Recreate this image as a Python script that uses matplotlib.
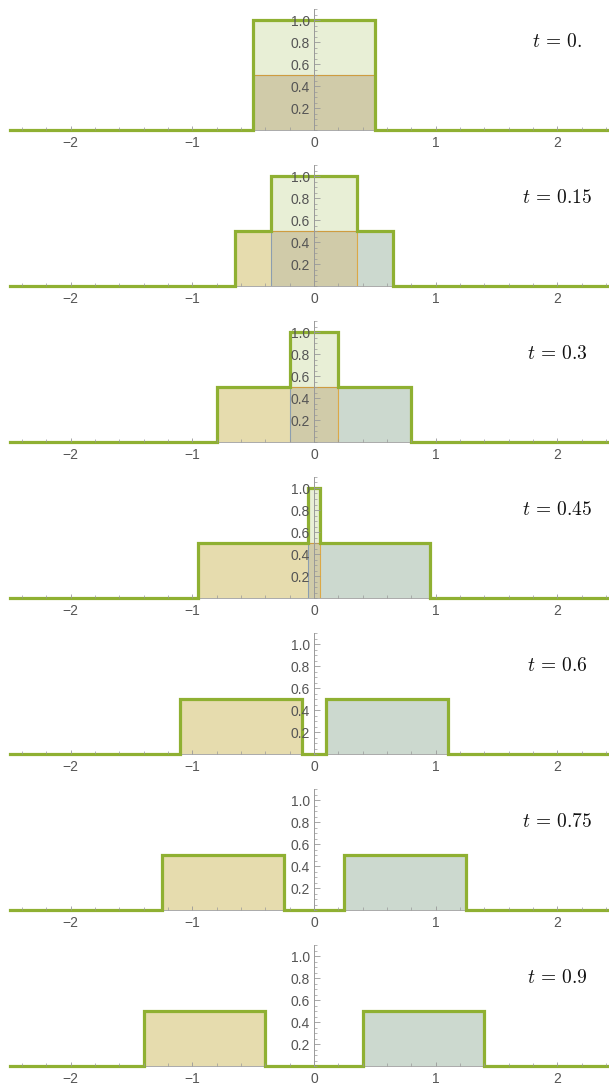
import numpy as np
import matplotlib.pyplot as plt
from matplotlib.ticker import MultipleLocator

plt.rcParams['mathtext.fontset'] = 'cm'
plt.rcParams['font.family'] = ['Liberation Sans', 'DejaVu Sans']

# time of each snapshot and its label
times = [0.0, 0.15, 0.3, 0.45, 0.6, 0.75, 0.9]
time_labels = ['0.', '0.15', '0.3', '0.45', '0.6', '0.75', '0.9']

# left-moving half of the pulse: [start, end] at each time
left_lo = [-0.5, -0.65, -0.8, -0.95, -1.1, -1.25, -1.4]
left_hi = [0.5, 0.35, 0.2, 0.05, -0.1, -0.25, -0.4]
# right-moving half of the pulse
right_lo = [-0.5, -0.35, -0.2, -0.05, 0.1, 0.25, 0.4]
right_hi = [0.5, 0.65, 0.8, 0.95, 1.1, 1.25, 1.4]
half_height = 0.5

x_range = (-2.5, 2.5)

GREEN = '#8FB032'
ORANGE = '#E19C24'
BLUE = '#5E81B5'


def box_path(lo, hi, height):
    """
    Outline of a single rectangle pulse (sides and top only).
    """
    return np.array([lo, lo, hi, hi]), np.array([0, height, height, 0])


def total_path(boxes):
    """
    Outline of the sum of several rectangle pulses (step function).

    :param boxes: list of (lo, hi, height)
    """
    edges = sorted(set([x_range[0], x_range[1]] + [b[0] for b in boxes] + [b[1] for b in boxes]))
    xs, ys = [], []
    for a, b in zip(edges[:-1], edges[1:]):
        mid = 0.5 * (a + b)
        val = sum(h for lo, hi, h in boxes if lo < mid < hi)
        xs += [a, b]
        ys += [val, val]
    return np.array(xs), np.array(ys)


def style_axes(ax):
    ax.set_xlim(*x_range)
    ax.set_ylim(0, 1.1)
    ax.set_facecolor('none')
    for side in ['top', 'right']:
        ax.spines[side].set_visible(False)
    ax.spines['left'].set_position(('data', 0))
    ax.spines['left'].set_color('#999999')
    ax.spines['left'].set_linewidth(0.7)
    ax.spines['left'].set_zorder(3)
    ax.spines['bottom'].set_color('#aaaaaa')
    ax.spines['bottom'].set_linewidth(0.7)
    ax.spines['bottom'].set_zorder(1)

    ax.set_xticks([-2, -1, 0, 1, 2])
    ax.xaxis.set_minor_locator(MultipleLocator(0.2))
    ax.set_yticks([0.2, 0.4, 0.6, 0.8, 1.0])
    ax.set_yticklabels(['0.2', '0.4', '0.6', '0.8', '1.0'])
    ax.yaxis.set_minor_locator(MultipleLocator(0.05))

    ax.tick_params(axis='x', which='major', direction='in', length=3, width=0.6,
                   color='#999999', labelsize=10, labelcolor='#555555', pad=4.5)
    ax.tick_params(axis='x', which='minor', direction='in', length=2, width=0.5, color='#999999')
    ax.tick_params(axis='y', which='major', direction='in', length=4, width=0.6,
                   color='#999999', labelsize=10, labelcolor='#555555', pad=3)
    ax.tick_params(axis='y', which='minor', direction='in', length=2, width=0.5, color='#999999')
    ax.set_axisbelow(False)


def plot_snapshot(ax, i):
    left = (left_lo[i], left_hi[i], half_height)
    right = (right_lo[i], right_hi[i], half_height)

    tx, ty = total_path([left, right])
    lx, ly = box_path(*left)
    rx, ry = box_path(*right)

    # fills down to the axis
    ax.fill_between(tx, ty, 0, color=GREEN, alpha=0.2, lw=0, zorder=1)
    ax.fill_between(rx, ry, 0, color=BLUE, alpha=0.2, lw=0, zorder=1.1)
    ax.fill_between(lx, ly, 0, color=ORANGE, alpha=0.22, lw=0, zorder=1.2)

    # thin outlines of each travelling half, total on top
    ax.plot(rx, ry, color=BLUE, lw=0.8, alpha=0.6, zorder=1.5)
    ax.plot(lx, ly, color=ORANGE, lw=0.8, alpha=0.8, zorder=1.6)
    ax.plot(tx, ty, color=GREEN, lw=2.3, zorder=2, clip_on=False,
            solid_joinstyle='miter')

    ax.text(2.0, 0.8, r'$t\, =\, %s$' % time_labels[i], fontsize=14,
            ha='center', va='center', color='#111111')


def main():
    fig_w, fig_h = 609, 1086
    fig = plt.figure(figsize=(fig_w / 100, fig_h / 100), dpi=100)

    for i in range(len(times)):
        baseline = 130 + 156 * i
        ax = fig.add_axes([10 / fig_w, 1 - baseline / fig_h, 608 / fig_w, 121 / fig_h])
        style_axes(ax)
        plot_snapshot(ax, i)

    fig.savefig('out.png', dpi=100)
    plt.close()


if __name__ == '__main__':
    main()
